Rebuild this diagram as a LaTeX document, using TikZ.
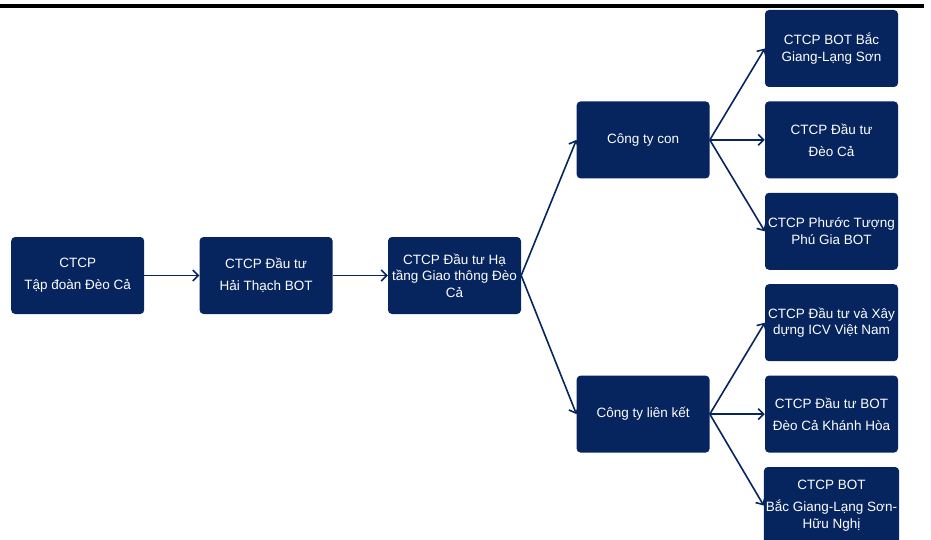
\documentclass[tikz,border=0pt]{standalone}
\usepackage{fontspec}
\setmainfont{Liberation Sans}
\usetikzlibrary{arrows.meta,positioning}
\definecolor{navy}{RGB}{6,36,94}

\begin{document}
\begin{tikzpicture}[x=1pt,y=-1pt,
  node distance=14pt and 55pt,
  box/.style={fill=navy,rounded corners=4pt,text=white,align=center,font=\fontsize{13.5}{16.5}\selectfont,inner sep=2pt,minimum width=133pt,minimum height=77pt},
  ar/.style={draw=navy,line width=1.6pt,-{Straight Barb[length=5.5pt,width=11pt]}}
]
\useasboundingbox (0,0) rectangle (931,540);
\fill[black] (0,4) rectangle (924,8);
% right column
\node[box] (bgls) at (831.5,48.5) {CTCP BOT Bắc\\Giang-Lạng Sơn};
\node[box,below=of bgls] (deoca) {CTCP Đầu tư\\[5.5pt]Đèo Cả};
\node[box,below=of deoca] (phuoc) {CTCP Phước Tượng\\Phú Gia BOT};
\node[box,below=of phuoc] (icv) {CTCP Đầu tư và Xây\\dựng ICV Việt Nam};
\node[box,below=of icv] (khanh) {CTCP Đầu tư BOT\\[5.5pt]Đèo Cả Khánh Hòa};
\node[box,below=of khanh] (huu) {CTCP BOT\\[5.5pt]Bắc Giang-Lạng Sơn-\\Hữu Nghị};
% middle
\node[box,left=of deoca] (con) {Công ty con};
\node[box,left=of khanh] (lk) {Công ty liên kết};
% main chain
\node[box] (hatang) at (454.5,275.5) {CTCP Đầu tư Hạ\\tầng Giao thông Đèo\\Cả};
\node[box,left=of hatang] (haithach) {CTCP Đầu tư\\[5.5pt]Hải Thạch BOT};
\node[box,left=of haithach] (tapdoan) {CTCP\\[5.5pt]Tập đoàn Đèo Cả};
\draw[ar] (tapdoan) -- (haithach);
\draw[ar] (haithach) -- (hatang);
\draw[ar] (hatang.east) -- (con.west);
\draw[ar] (hatang.east) -- (lk.west);
\draw[ar] (con.east) -- (bgls.west);
\draw[ar] (con.east) -- (deoca.west);
\draw[ar] (con.east) -- (phuoc.west);
\draw[ar] (lk.east) -- (icv.west);
\draw[ar] (lk.east) -- (khanh.west);
\draw[ar] (lk.east) -- (huu.west);
\end{tikzpicture}
\end{document}
